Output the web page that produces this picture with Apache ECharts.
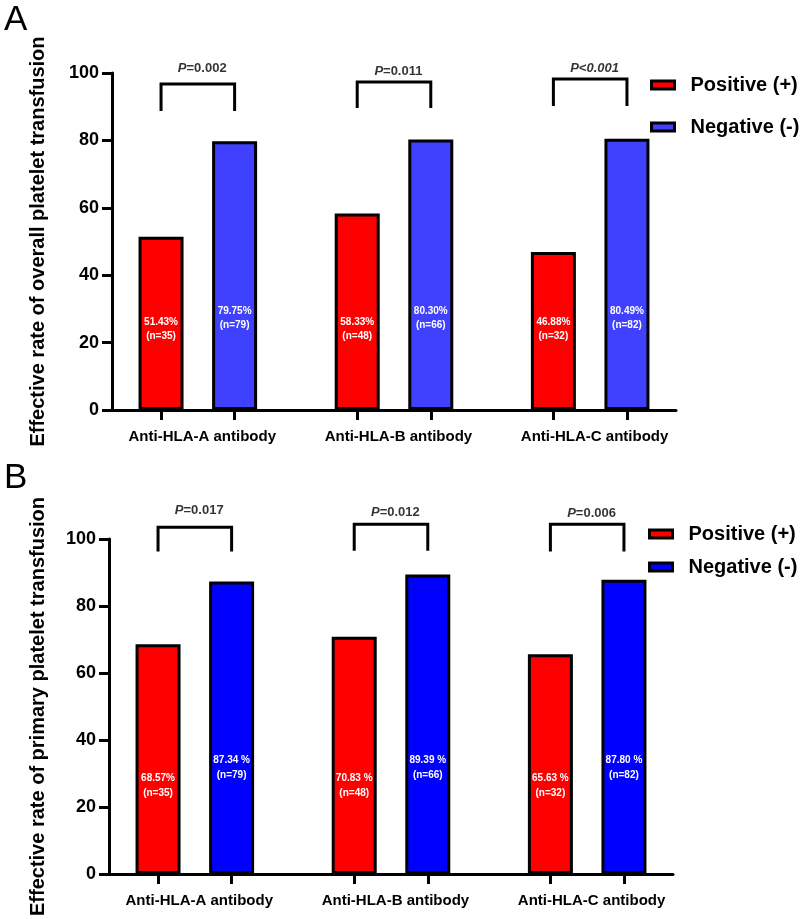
<!DOCTYPE html>
<html>
<head>
<meta charset="utf-8">
<script src="https://cdn.jsdelivr.net/npm/echarts@6/dist/echarts.min.js"></script>
<style>html,body{margin:0;padding:0;background:#fff;}#c{width:800px;height:919px;}</style>
</head>
<body>
<div id="c"></div>
<script>
// ---- data ----
const categories = ['Anti-HLA-A antibody', 'Anti-HLA-B antibody', 'Anti-HLA-C antibody'];
const seriesNames = ['Positive (+)', 'Negative (-)'];
const yTicks = [0, 20, 40, 60, 80, 100];

// Panel A: overall platelet transfusion
const posA = [51.43, 58.33, 46.88];
const negA = [79.75, 80.30, 80.49];
const posLabelA = ['51.43%', '58.33%', '46.88%'];
const negLabelA = ['79.75%', '80.30%', '80.49%'];
const posNA = [35, 48, 32];
const negNA = [79, 66, 82];
const pTextA = ['P=0.002', 'P=0.011', 'P<0.001'];
const bracketLowA = [88.7, 89.6, 90.2];
const bracketHighA = [96.7, 97.3, 98.2];
const pLevelA = [101.5, 100.6, 101.5];

// Panel B: primary platelet transfusion
const posB = [68.57, 70.83, 65.63];
const negB = [87.34, 89.39, 87.80];
const posLabelB = ['68.57%', '70.83 %', '65.63 %'];
const negLabelB = ['87.34 %', '89.39 %', '87.80 %'];
const posNB = [35, 48, 32];
const negNB = [79, 66, 82];
const pTextB = ['P=0.017', 'P=0.012', 'P=0.006'];
const bracketLowB = [96.3, 96.5, 96.3];
const bracketHighB = [103.5, 104.4, 104.4];
const pLevelB = [108.5, 107.8, 107.5];

// ---- layout helpers (axis slots) ----
const SLOT_POS = [2, 10, 18];
const SLOT_NEG = [5, 13, 21];
const SLOT_LABEL = [3.68, 11.68, 19.68];
const FONT = '"Liberation Sans", Arial, sans-serif';

function pRich(t) {
  if (t.indexOf('<') >= 0) return '{i|' + t + '}';
  return '{i|P}{b|' + t.slice(1) + '}';
}

function buildPanel(idx, cfg) {
  const xAxis = {
    gridIndex: idx, type: 'value', min: 0, max: 23,
    axisLine: { show: true, onZero: false, lineStyle: { color: '#000', width: 3 } },
    axisTick: { show: true, customValues: SLOT_POS.concat(SLOT_NEG), length: 10, lineStyle: { color: '#000', width: 3 } },
    axisLabel: {
      customValues: SLOT_LABEL, margin: 19,
      formatter: v => categories[SLOT_LABEL.indexOf(v)] || '',
      color: '#000', fontFamily: FONT, fontWeight: 'bold', fontSize: 15
    },
    splitLine: { show: false }
  };
  const yAxis = {
    gridIndex: idx, type: 'value', min: 0, max: 100, interval: 20,
    name: cfg.yName, nameLocation: 'middle', nameGap: cfg.nameGap, nameRotate: 90,
    nameTextStyle: { color: '#000', fontFamily: FONT, fontWeight: 'bold', fontSize: 20 },
    axisLine: { show: true, lineStyle: { color: '#000', width: 3 } },
    axisTick: { show: true, length: 10, lineStyle: { color: '#000', width: 3 } },
    axisLabel: { margin: 13, color: '#000', fontFamily: FONT, fontWeight: 'bold', fontSize: 18,
      formatter: v => yTicks.indexOf(v) >= 0 ? String(v) : '' },
    splitLine: { show: false }
  };
  const labelStyle = (texts, ns, dist) => ({
    show: true, position: 'insideBottom', distance: dist,
    formatter: p => texts[p.dataIndex] + '\n(n=' + ns[p.dataIndex] + ')',
    color: '#fff', fontFamily: FONT, fontWeight: 'bold', fontSize: 10, lineHeight: cfg.labelLH
  });
  const series = [
    {
      name: seriesNames[0], type: 'bar', xAxisIndex: idx, yAxisIndex: idx,
      data: cfg.pos.map((v, i) => [SLOT_POS[i], v]),
      barWidth: 45, barGap: '-100%',
      itemStyle: { color: cfg.red, borderColor: '#000', borderWidth: 3 },
      label: labelStyle(cfg.posLabel, cfg.posN, cfg.posDist)
    },
    {
      name: seriesNames[1], type: 'bar', xAxisIndex: idx, yAxisIndex: idx,
      data: cfg.neg.map((v, i) => [SLOT_NEG[i], v]),
      barWidth: 45, barGap: '-100%',
      itemStyle: { color: cfg.blue, borderColor: '#000', borderWidth: 3 },
      label: labelStyle(cfg.negLabel, cfg.negN, cfg.negDist)
    }
  ];
  for (let i = 0; i < 3; i++) {
    series.push({
      type: 'line', xAxisIndex: idx, yAxisIndex: idx, clip: false, silent: true,
      symbol: 'none', lineStyle: { color: '#000', width: 3, join: 'miter', cap: 'butt' },
      data: [[SLOT_POS[i], cfg.low[i]], [SLOT_POS[i], cfg.high[i]], [SLOT_NEG[i], cfg.high[i]], [SLOT_NEG[i], cfg.low[i]]],
      z: 5
    });
  }
  series.push({
    type: 'scatter', xAxisIndex: idx, yAxisIndex: idx, clip: false, silent: true,
    symbolSize: 0, itemStyle: { color: 'rgba(0,0,0,0)' },
    data: cfg.pText.map((t, i) => [SLOT_LABEL[i], cfg.pLevel[i]]),
    label: {
      show: true, position: 'inside', formatter: p => pRich(cfg.pText[p.dataIndex]),
      rich: {
        i: { fontStyle: 'italic', fontWeight: 'bold', fontSize: 13, color: '#000', fontFamily: FONT },
        b: { fontWeight: 'bold', fontSize: 13, color: '#000', fontFamily: FONT }
      }
    },
    z: 6
  });
  const legend = {
    orient: 'vertical', left: cfg.legendLeft, top: cfg.legendTop, itemGap: cfg.legendGap, padding: 0,
    icon: 'rect', itemWidth: 23, itemHeight: 8, selectedMode: false,
    textStyle: { color: '#000', fontFamily: FONT, fontWeight: 'bold', fontSize: 20, padding: [0, 0, 0, 11] },
    data: [
      { name: seriesNames[0], itemStyle: { color: cfg.red, borderColor: '#000', borderWidth: 3 } },
      { name: seriesNames[1], itemStyle: { color: cfg.blue, borderColor: '#000', borderWidth: 3 } }
    ]
  };
  return { xAxis, yAxis, series, legend };
}

const pa = buildPanel(0, {
  yName: 'Effective rate of overall platelet transfusion', nameGap: 64,
  pos: posA, neg: negA, posLabel: posLabelA, negLabel: negLabelA, posN: posNA, negN: negNA,
  red: '#ff0000', blue: '#4040ff', posDist: 67, negDist: 78, labelLH: 14,
  low: bracketLowA, high: bracketHighA, pText: pTextA, pLevel: pLevelA,
  legendLeft: 650, legendTop: 75, legendGap: 22
});
const pb = buildPanel(1, {
  yName: 'Effective rate of primary platelet transfusion', nameGap: 61,
  pos: posB, neg: negB, posLabel: posLabelB, negLabel: negLabelB, posN: posNB, negN: negNB,
  red: '#ff0000', blue: '#0000ff', posDist: 73, negDist: 91, labelLH: 15,
  low: bracketLowB, high: bracketHighB, pText: pTextB, pLevel: pLevelB,
  legendLeft: 648, legendTop: 524, legendGap: 13
});

const chart = echarts.init(document.getElementById('c'), null, { renderer: 'canvas' });
chart.setOption({
  animation: false,
  backgroundColor: '#fff',
  grid: [
    { left: 112, top: 73, width: 564, height: 337 },
    { left: 109, top: 539, width: 564, height: 340 }
  ],
  xAxis: [pa.xAxis, pb.xAxis],
  yAxis: [pa.yAxis, pb.yAxis],
  legend: [pa.legend, pb.legend],
  graphic: [
    { type: 'text', left: 4, top: 3, style: { text: 'A', fontSize: 35, fontFamily: FONT, fill: '#000' } },
    { type: 'text', left: 4, top: 461, style: { text: 'B', fontSize: 35, fontFamily: FONT, fill: '#000' } }
  ],
  series: pa.series.concat(pb.series)
});
</script>
</body>
</html>
